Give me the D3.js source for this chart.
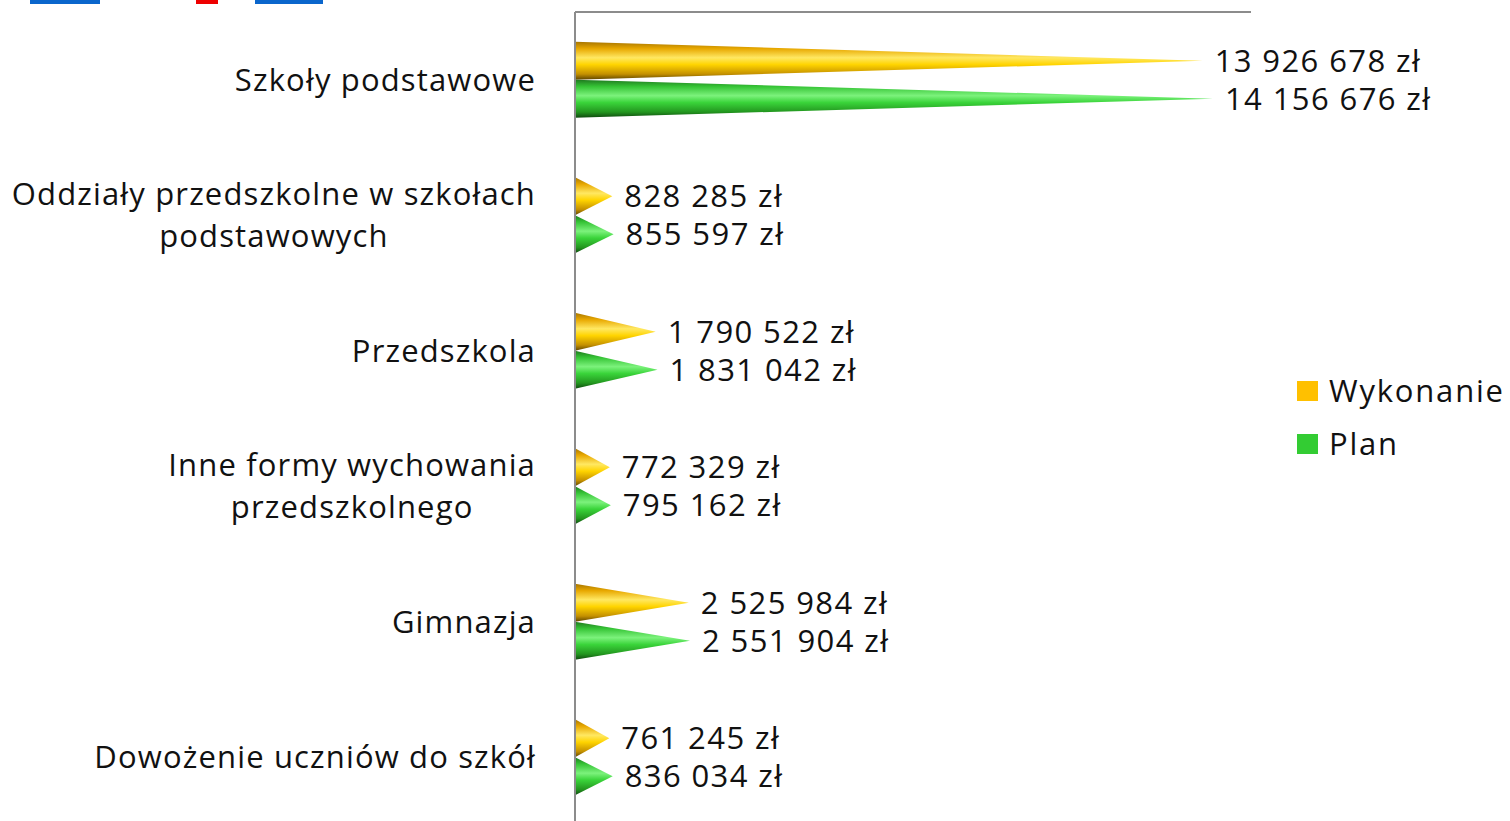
<!DOCTYPE html>
<html>
<head>
<meta charset="utf-8">
<script src="https://cdn.jsdelivr.net/npm/d3@7"></script>
<style>
  body { margin: 0; background: #fff; }
  svg { display: block; }
  text { font-family: "Open Sans", sans-serif; fill: #111; }
</style>
</head>
<body>
<svg class="cone-chart"></svg>
<script>
const width = 1510;
const height = 821;
const margin = {top: 12, right: 260, bottom: -4, left: 575};

const categories = [
  ["Szkoły podstawowe"],
  ["Oddziały przedszkolne w szkołach", "podstawowych"],
  ["Przedszkola"],
  ["Inne formy wychowania", "przedszkolnego"],
  ["Gimnazja"],
  ["Dowożenie uczniów do szkół"]
];
const seriesNames = ["Wykonanie", "Plan"];
const wykonanie = [13926678, 828285, 1790522, 772329, 2525984, 761245];
const plan = [14156676, 855597, 1831042, 795162, 2551904, 836034];
const legendColors = ["#ffc000", "#33cc33"];

const svg = d3.select(".cone-chart")
    .attr("width", width)
    .attr("height", height);

// bits of the page header cut off at the top edge
svg.append("g").selectAll("rect")
    .data([[30, 100, "#0a66cc"], [196, 218, "#ee0000"], [255, 323, "#0a66cc"]])
  .enter().append("rect")
    .attr("x", d => d[0]).attr("y", 0)
    .attr("width", d => d[1] - d[0]).attr("height", 4)
    .attr("fill", d => d[2]);

const x = d3.scaleLinear()
    .domain([0, 15000000])
    .range([margin.left, width - margin.right + 1]);

const y = d3.scaleBand()
    .domain(d3.range(categories.length))
    .range([margin.top, height - margin.bottom])
    .paddingInner(0.44)
    .paddingOuter(0.22);

const ySub = d3.scaleBand()
    .domain(seriesNames)
    .range([0, y.bandwidth()]);

// cone shading
const defs = svg.append("defs");
const shades = {
  "Wykonanie": ["#a87600", "#e8a800", "#ffe862", "#ffd400", "#c49000", "#5e4500"],
  "Plan": ["#1f7a1f", "#36c436", "#7cf27c", "#3ad43a", "#23961f", "#0f4a0f"]
};
const offsets = [0, 0.18, 0.42, 0.6, 0.85, 1];
seriesNames.forEach((s, i) => {
  defs.append("linearGradient")
      .attr("id", "grad" + i)
      .attr("x1", 0).attr("y1", 0).attr("x2", 0).attr("y2", 1)
    .selectAll("stop")
      .data(shades[s])
    .enter().append("stop")
      .attr("offset", (d, j) => offsets[j])
      .attr("stop-color", d => d);
});

// gridline frame
svg.append("line")
    .attr("x1", x(0)).attr("x2", x.range()[1])
    .attr("y1", margin.top).attr("y2", margin.top)
    .attr("stroke", "#8c8c8c").attr("stroke-width", 2);

const rows = categories.map((c, i) => ({i, values: [wykonanie[i], plan[i]]}));

const groups = svg.append("g").selectAll("g")
    .data(rows)
  .enter().append("g")
    .attr("transform", d => `translate(0,${y(d.i)})`);

const cones = groups.selectAll("g")
    .data(d => d.values.map((v, k) => ({v, s: seriesNames[k], k})))
  .enter().append("g");

cones.append("path")
    .attr("fill", d => `url(#grad${d.k})`)
    .attr("d", d => {
      const top = ySub(d.s), h = ySub.bandwidth();
      return `M${x(0)},${top}L${x(d.v)},${top + h / 2}L${x(0)},${top + h}Z`;
    });

const fmt = v => d3.format(",")(v).replace(/,/g, " ") + " zł";

cones.append("text")
    .attr("x", d => x(d.v) + 12)
    .attr("y", d => ySub(d.s) + ySub.bandwidth() / 2)
    .attr("dy", "0.35em")
    .style("font-size", "31px")
    .style("letter-spacing", "1.4px")
    .text(d => fmt(d.v));

// category labels, wrapped lines centred under the first line
const labelRight = margin.left - 39;
const lineGap = 42;
groups.each(function(d) {
  const g = d3.select(this);
  const lines = categories[d.i];
  const cy = y.bandwidth() / 2 - (lines.length - 1) * lineGap / 2;
  const first = g.append("text")
      .attr("x", labelRight)
      .attr("y", cy)
      .attr("dy", "0.35em")
      .attr("text-anchor", "end")
      .style("font-size", "31px")
      .style("letter-spacing", "1.15px")
      .text(lines[0]);
  if (lines.length > 1) {
    const w = first.node().getComputedTextLength();
    g.append("text")
        .attr("x", labelRight - w / 2)
        .attr("y", cy + lineGap)
        .attr("dy", "0.35em")
        .attr("text-anchor", "middle")
        .style("font-size", "31px")
        .style("letter-spacing", "1.15px")
        .text(lines[1]);
  }
});

// axis line
svg.append("line")
    .attr("x1", x(0)).attr("x2", x(0))
    .attr("y1", margin.top).attr("y2", height)
    .attr("stroke", "#8c8c8c").attr("stroke-width", 2);

// legend
const legend = svg.append("g")
    .attr("transform", "translate(1297,381)")
  .selectAll("g")
    .data(seriesNames)
  .enter().append("g")
    .attr("transform", (d, i) => `translate(0,${i * 53})`);

legend.append("rect")
    .attr("width", 21).attr("height", 20)
    .attr("fill", (d, i) => legendColors[i]);

legend.append("text")
    .attr("x", 32).attr("y", 10)
    .attr("dy", "0.35em")
    .style("font-size", "31px")
    .style("letter-spacing", "1.8px")
    .text(d => d);
</script>
</body>
</html>
